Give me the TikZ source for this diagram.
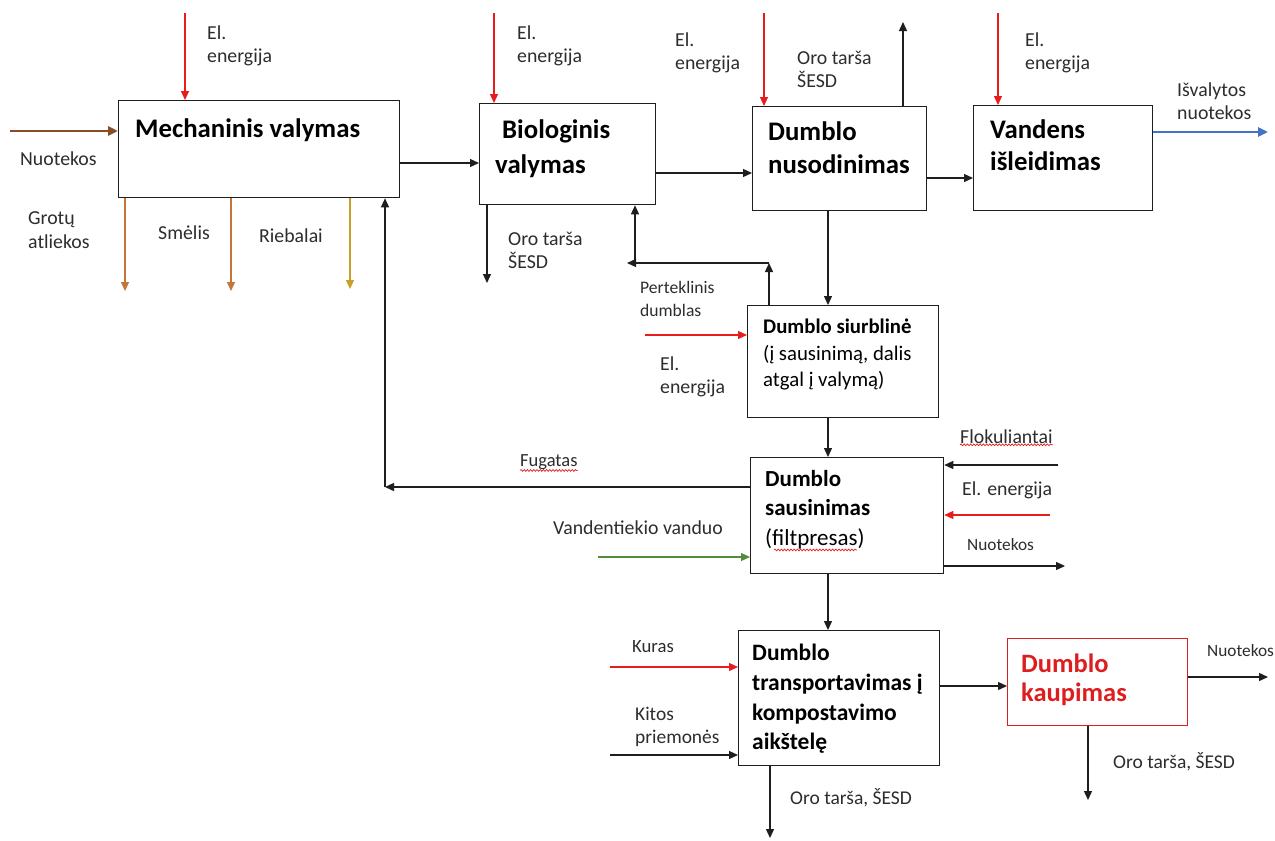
\documentclass[tikz,border=0pt]{standalone}
\usepackage{fontspec}
\setmainfont{Carlito}
\usetikzlibrary{arrows.meta,calc,decorations.pathmorphing}

\definecolor{inkline}{RGB}{30,30,30}
\definecolor{labelgray}{RGB}{45,45,45}
\definecolor{sewage}{RGB}{135,78,38}
\definecolor{grit}{RGB}{196,118,58}
\definecolor{grease}{RGB}{200,160,40}
\definecolor{power}{RGB}{232,28,28}
\definecolor{clean}{RGB}{68,114,196}
\definecolor{tapwater}{RGB}{84,140,60}
\definecolor{storage}{RGB}{222,30,30}

\tikzset{
  box/.style={draw=inkline, line width=1.3pt, anchor=north west, inner sep=0pt},
  ttl/.style={font=\fontsize{26.8}{33}\selectfont\bfseries, align=left,
              anchor=north west, inner sep=0pt, text=black},
  lbl/.style={font=\fontsize{19.8}{23.5}\selectfont, align=left,
              anchor=north west, inner sep=0pt, text=labelgray},
  tip/.style={-{Triangle[length=9pt,width=8pt]}},
  flow/.style={tip, draw=inkline, line width=1.3pt},
  elflow/.style={tip, draw=power, line width=1.2pt},
  spell/.style={draw=power, line width=0.7pt,
                decorate, decoration={snake, amplitude=0.9pt, segment length=3.2pt}},
}

\begin{document}
\begin{tikzpicture}[x=1pt, y=-1pt]
\useasboundingbox[fill=white] (0,0) rectangle (1275,841);

% process boxes
\node[box, minimum width=281pt, minimum height=97pt]  (mech)   at (118,100) {};
\node[box, minimum width=176pt, minimum height=101pt] (bio)    at (479,103) {};
\node[box, minimum width=174pt, minimum height=104pt] (nusod)  at (752,106) {};
\node[box, minimum width=179pt, minimum height=105pt] (vand)   at (973,105) {};
\node[box, minimum width=191pt, minimum height=112pt] (siurb)  at (747,305) {};
\node[box, minimum width=193pt, minimum height=116pt] (saus)   at (750,457) {};
\node[box, minimum width=201pt, minimum height=135pt] (transp) at (738,630) {};
\node[box, draw=storage, line width=1pt, minimum width=180pt, minimum height=87pt] (kaup) at (1007,638) {};

% box titles
\node[ttl] (mechT)  at (135,118) {Mechaninis valymas};
\node[ttl, font=\fontsize{26.8}{35}\selectfont\bfseries] (bioT) at (495,119) {\hspace{7pt}Biologinis\\valymas};
\node[ttl] (nusodT) at (768,121) {Dumblo\\nusodinimas};
\node[ttl, font=\fontsize{26.8}{32}\selectfont\bfseries] (vandT) at (990,119) {Vandens\\išleidimas};
\node[ttl, font=\fontsize{20.8}{26.5}\selectfont] (siurbT) at (763,319)
  {\textbf{Dumblo siurblinė}\\(į sausinimą, dalis\\atgal į valymą)};
\node[ttl, font=\fontsize{23}{29}\selectfont\bfseries] (sausT) at (765,470) {Dumblo\\sausinimas};
\node[ttl, font=\fontsize{23}{29}\selectfont] (sausT3) at (765,528) {(filtpresas)};
\node[ttl, font=\fontsize{23.5}{29.7}\selectfont\bfseries] (transpT) at (752,644)
  {Dumblo\\transportavimas į\\kompostavimo\\aikštelę};
\node[ttl, font=\fontsize{26.5}{29}\selectfont\bfseries, text=storage] (kaupT) at (1021,654) {Dumblo\\kaupimas};

% labels
\node[lbl] (lNuot)  at (20,151.5)  {Nuotekos};
\node[lbl] (lElM)   at (207,25.5)  {El.\\energija};
\node[lbl] (lGrot)  at (28,211.5)  {Grotų\\atliekos};
\node[lbl] (lSmel)  at (158,225.5) {Smėlis};
\node[lbl] (lRieb)  at (259,228.5) {Riebalai};
\node[lbl] (lElB)   at (517,25.5)  {El.\\energija};
\node[lbl] (lOroB)  at (508,231.5) {Oro tarša\\ŠESD};
\node[lbl] (lElN)   at (675,32.5)  {El.\\energija};
\node[lbl] (lOroN)  at (797,50.5)  {Oro tarša\\ŠESD};
\node[lbl] (lElV)   at (1025,32.5) {El.\\energija};
\node[lbl] (lIsv)   at (1177,82.5) {Išvalytos\\nuotekos};
\node[lbl, font=\fontsize{17.6}{23}\selectfont] (lPert) at (640,281) {Perteklinis\\dumblas};
\node[lbl] (lElS)   at (660,356.5) {El.\\energija};
\node[lbl, font=\fontsize{18.5}{23}\selectfont] (lFug) at (520,454) {Fugatas};
\node[lbl] (lFlok)  at (960,429.5) {Flokuliantai};
\node[lbl] (lElD)   at (962,481.5) {El. energija};
\node[lbl, font=\fontsize{17.3}{23}\selectfont] (lNuoD) at (967,538) {Nuotekos};
\node[lbl] (lVand)  at (553,520.5) {Vandentiekio vanduo};
\node[lbl, font=\fontsize{18.7}{23}\selectfont] (lKur) at (632,640) {Kuras};
\node[lbl, font=\fontsize{19.4}{23}\selectfont] (lKit) at (635,706.6) {Kitos\\priemonės};
\node[lbl, font=\fontsize{17.3}{23}\selectfont] (lNuoK) at (1207,644) {Nuotekos};
\node[lbl, font=\fontsize{19.5}{23}\selectfont] (lOroK) at (1113,752.6) {Oro tarša, ŠESD};
\node[lbl, font=\fontsize{19.5}{23}\selectfont] (lOroT) at (790,788.6) {Oro tarša, ŠESD};

% spelling marks under unknown words
\draw[spell] ($(lFug.south west)+(0,1)$) -- ($(lFug.south east)+(0,1)$);
\draw[spell] ($(lFlok.south west)+(0,1)$) -- ($(lFlok.south east)+(0,1)$);
\draw[spell] ($(sausT3.south west)+(9,1)$) -- ($(sausT3.south east)+(-8,1)$);

% free ends of connectors
\coordinate (cIn)   at (10,131);
\coordinate (cElM)  at (185,13);
\coordinate (cGrot) at (125,291);
\coordinate (cSmel) at (231,291);
\coordinate (cRieb) at (350,289);
\coordinate (cFug)  at (385,487);
\coordinate (cMB)   at (0,163);
\coordinate (cElB)  at (494,13);
\coordinate (cOroB) at (487,283);
\coordinate (cBN)   at (0,173);
\coordinate (cPk)   at (769,263);
\coordinate (cPkL)  at (627,263);
\coordinate (cPkV)  at (635,263);
\coordinate (cElN)  at (764,13);
\coordinate (cOroN) at (903,22);
\coordinate (cNV)   at (0,178);
\coordinate (cElV)  at (998,13);
\coordinate (cIsv)  at (1268,132);
\coordinate (cDown) at (828,0);
\coordinate (cElS)  at (645,335);
\coordinate (cFlok) at (1058,465);
\coordinate (cElD)  at (1050,515);
\coordinate (cNuoD) at (1065,566);
\coordinate (cVand) at (598,557);
\coordinate (cKur)  at (610,667);
\coordinate (cKit)  at (610,755);
\coordinate (cTK)   at (0,686);
\coordinate (cNuoK) at (1268,677);
\coordinate (cOroK) at (1088,800);
\coordinate (cOroT) at (770,838);

% mechanical stage
\draw[tip, draw=sewage, line width=2.6pt, -{Triangle[length=10pt,width=9pt]}] (cIn) -- (cIn -| mech.west);
\draw[elflow] (cElM) -- (cElM |- mech.north);
\draw[tip, draw=grit, line width=1.2pt] (cGrot |- mech.south) -- (cGrot);
\draw[tip, draw=grit, line width=1.2pt] (cSmel |- mech.south) -- (cSmel);
\draw[tip, draw=grease, line width=1.2pt] (cRieb |- mech.south) -- (cRieb);
\draw[flow] (cMB -| mech.east) -- (cMB -| bio.west);

% reject water back to the head of the works
\draw[flow] (cFug -| saus.west) -- (cFug);
\draw[flow] (cFug) -- (cFug |- mech.south);

% biological stage
\draw[elflow] (cElB) -- (cElB |- bio.north);
\draw[flow] (cOroB |- bio.south) -- (cOroB);
\draw[flow] (cBN -| bio.east) -- (cBN -| nusod.west);

% surplus sludge returned to biological stage
\draw[flow] (cPk |- siurb.north) -- (cPk);
\draw[flow] (cPk) -- (cPkL);
\draw[flow] (cPkV) -- (cPkV |- bio.south);

% settling and discharge
\draw[elflow] (cElN) -- (cElN |- nusod.north);
\draw[flow] (cOroN |- nusod.north) -- (cOroN);
\draw[flow] (cNV -| nusod.east) -- (cNV -| vand.west);
\draw[elflow] (cElV) -- (cElV |- vand.north);
\draw[tip, draw=clean, line width=2.6pt, -{Triangle[length=10pt,width=9pt]}] (cIsv -| vand.east) -- (cIsv);

% sludge line
\draw[flow] (cDown |- nusod.south) -- (cDown |- siurb.north);
\draw[elflow] (cElS) -- (cElS -| siurb.west);
\draw[flow] (cDown |- siurb.south) -- (cDown |- saus.north);
\draw[flow] (cFlok) -- (cFlok -| saus.east);
\draw[elflow] (cElD) -- (cElD -| saus.east);
\draw[flow] (cNuoD -| saus.east) -- (cNuoD);
\draw[tip, draw=tapwater, line width=1.2pt] (cVand) -- (cVand -| saus.west);
\draw[flow] (cDown |- saus.south) -- (cDown |- transp.north);

% transport and storage
\draw[elflow] (cKur) -- (cKur -| transp.west);
\draw[flow] (cKit) -- (cKit -| transp.west);
\draw[flow] (cTK -| transp.east) -- (cTK -| kaup.west);
\draw[flow] (cOroT |- transp.south) -- (cOroT);
\draw[flow] (cNuoK -| kaup.east) -- (cNuoK);
\draw[flow] (cOroK |- kaup.south) -- (cOroK);
\end{tikzpicture}
\end{document}
